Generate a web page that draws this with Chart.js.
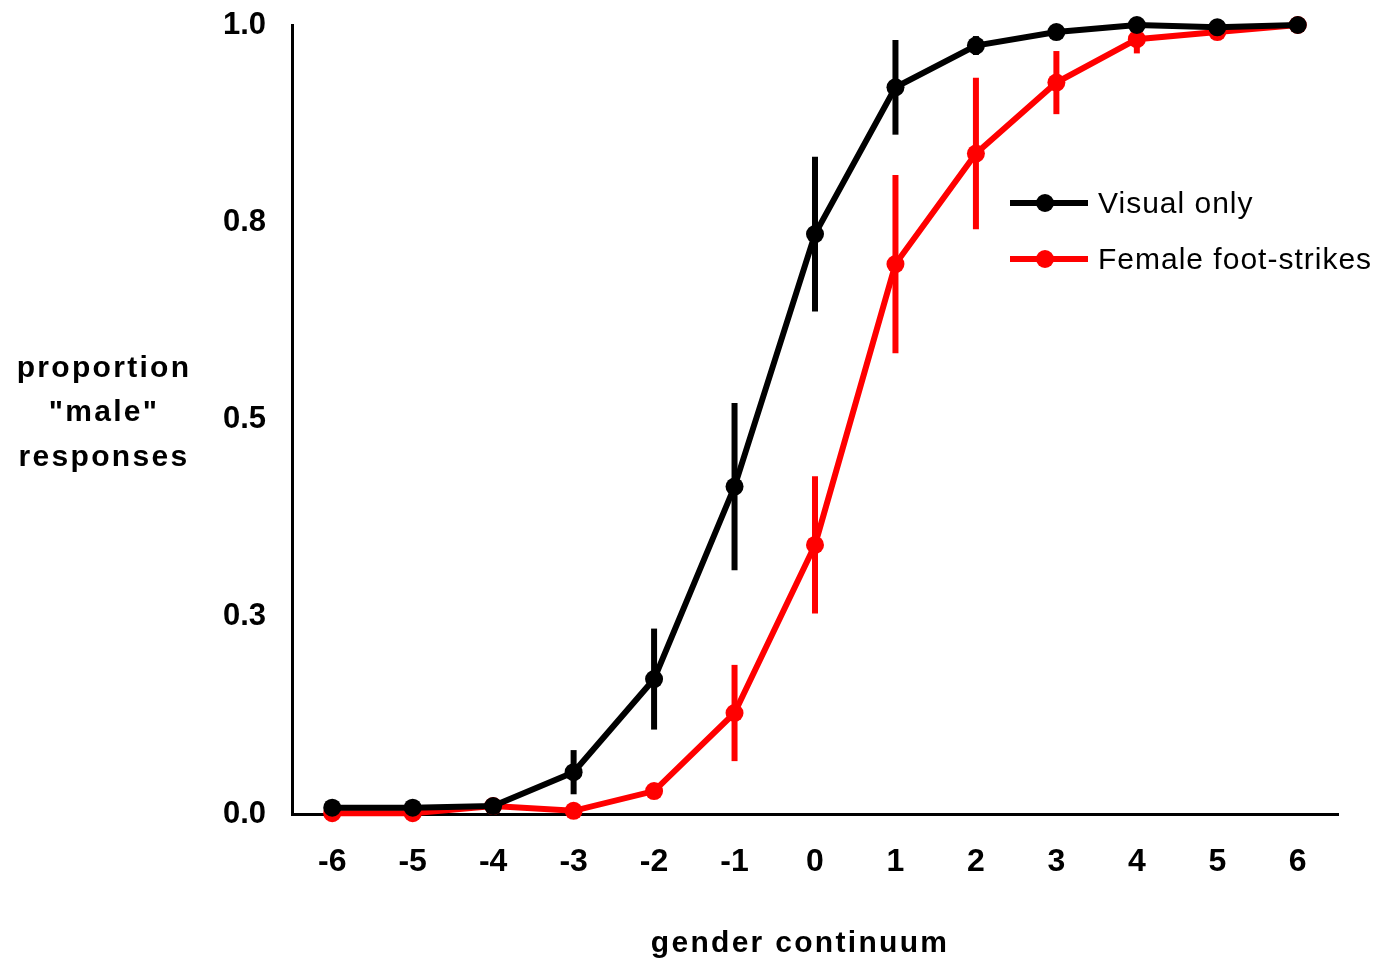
<!DOCTYPE html>
<html lang="en">
<head>
	<meta charset="UTF-8">
	<title>proportion "male" responses</title>
	<script src="https://cdn.jsdelivr.net/npm/chart.js"></script>
	<style>
		body { margin: 0; background: #fff; }
		#wrap { position: relative; width: 1375px; height: 960px; }
	</style>
</head>
<body>
	<div id="wrap"><canvas id="myChart"></canvas></div>
	<script type="text/javascript">
		// gender continuum steps
		var categories = ['-6', '-5', '-4', '-3', '-2', '-1', '0', '1', '2', '3', '4', '5', '6'];

		var visualOnly    = [0.008, 0.008, 0.010, 0.053, 0.171, 0.415, 0.735, 0.921, 0.974, 0.991, 1.000, 0.997, 1.000];
		var visualOnlyErr = [0.000, 0.000, 0.000, 0.028, 0.064, 0.106, 0.098, 0.060, 0.012, 0.005, 0.000, 0.000, 0.000];

		var femaleSteps    = [0.001, 0.001, 0.010, 0.004, 0.029, 0.128, 0.341, 0.697, 0.837, 0.927, 0.982, 0.991, 1.000];
		var femaleStepsErr = [0.000, 0.000, 0.000, 0.000, 0.008, 0.061, 0.087, 0.113, 0.096, 0.040, 0.018, 0.003, 0.000];

		var yTicks = [0, 0.25, 0.5, 0.75, 1.0];
		var yTickLabels = ['0.0', '0.3', '0.5', '0.8', '1.0'];

		var errors = [visualOnlyErr, femaleStepsErr];

		// error bars (no caps), drawn through the scales
		var errorBars = {
			id: 'errorBars',
			beforeDatasetsDraw: function(chart) {
				var ctx = chart.ctx;
				var y = chart.scales.y;
				chart.data.datasets.forEach(function(ds, i) {
					var meta = chart.getDatasetMeta(i);
					ctx.save();
					ctx.strokeStyle = ds.borderColor;
					ctx.lineWidth = 6;
					meta.data.forEach(function(pt, j) {
						var e = errors[i][j];
						if (!e) return;
						var v = ds.data[j];
						ctx.beginPath();
						ctx.moveTo(pt.x, y.getPixelForValue(v - e));
						ctx.lineTo(pt.x, y.getPixelForValue(v + e));
						ctx.stroke();
					});
					ctx.restore();
				});
			}
		};

		// titles and legend drawn as text
		var labelsPlugin = {
			id: 'labelsPlugin',
			afterDraw: function(chart) {
				var ctx = chart.ctx;
				ctx.save();
				ctx.fillStyle = '#000';
				ctx.textAlign = 'center';
				ctx.textBaseline = 'alphabetic';
				ctx.font = 'bold 30px "Liberation Sans", Arial, sans-serif';
				ctx.letterSpacing = '2.3px';
				ctx.fillText('proportion', 104, 377);
				ctx.fillText('"male"', 104, 421);
				ctx.fillText('responses', 104, 466);
				ctx.fillText('gender continuum', 800, 952);

				// legend
				ctx.letterSpacing = '1px';
				ctx.font = '30px "Liberation Sans", Arial, sans-serif';
				ctx.textAlign = 'left';
				ctx.textBaseline = 'middle';
				var rows = [[203, 0], [259, 1]];
				rows.forEach(function(r) {
					var ds = chart.data.datasets[r[1]];
					ctx.strokeStyle = ds.borderColor;
					ctx.fillStyle = ds.borderColor;
					ctx.lineWidth = 6;
					ctx.beginPath();
					ctx.moveTo(1010, r[0]);
					ctx.lineTo(1088, r[0]);
					ctx.stroke();
					ctx.beginPath();
					ctx.arc(1045, r[0], 9, 0, Math.PI * 2);
					ctx.fill();
					ctx.fillStyle = '#000';
					ctx.fillText(ds.label, 1098, r[0] + 2);
				});
				ctx.restore();
			}
		};

		var ctx = document.getElementById('myChart');
		new Chart(ctx, {
			type: 'line',
			data: {
				labels: categories,
				datasets: [{
					label: 'Visual only',
					data: visualOnly,
					borderColor: '#000000',
					backgroundColor: '#000000',
					borderWidth: 6,
					pointRadius: 9,
					pointBorderWidth: 0,
					tension: 0,
					clip: false
				}, {
					label: 'Female foot-strikes',
					data: femaleSteps,
					borderColor: '#ff0000',
					backgroundColor: '#ff0000',
					borderWidth: 6,
					pointRadius: 9,
					pointBorderWidth: 0,
					tension: 0,
					clip: false
				}]
			},
			options: {
				responsive: true,
				maintainAspectRatio: false,
				animation: false,
				layout: { padding: { top: 25, right: 37, left: 0, bottom: 0 } },
				plugins: {
					legend: { display: false },
					tooltip: { enabled: false }
				},
				scales: {
					x: {
						offset: true,
						grid: { display: false, drawTicks: false },
						border: { display: true, color: '#000', width: 3 },
						ticks: {
							color: '#000',
							padding: 29,
							font: { family: '"Liberation Sans", Arial, sans-serif', size: 32, weight: 'bold' }
						},
						afterFit: function(scale) { scale.height = 146; }
					},
					y: {
						min: 0,
						max: 1,
						afterBuildTicks: function(scale) {
							scale.ticks = yTicks.map(function(v) { return { value: v }; });
						},
						grid: { display: false, drawTicks: false },
						border: { display: true, color: '#000', width: 3 },
						ticks: {
							color: '#000',
							padding: 26,
							font: { family: '"Liberation Sans", Arial, sans-serif', size: 31, weight: 'bold' },
							callback: function(value) {
								var i = yTicks.indexOf(value);
								return i >= 0 ? yTickLabels[i] : '';
							}
						},
						afterFit: function(scale) {
							scale.width = 292;
							scale.paddingTop = 0;
							scale.paddingBottom = 0;
						}
					}
				}
			},
			plugins: [errorBars, labelsPlugin]
		});
	</script>
</body>
</html>
